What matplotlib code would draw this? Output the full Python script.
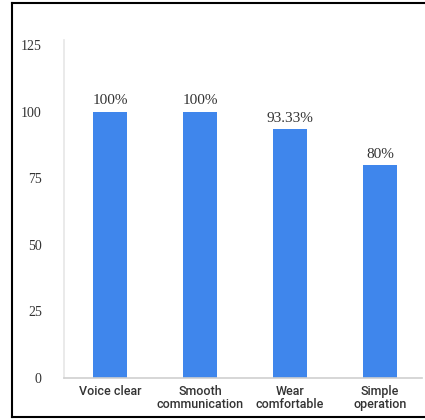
import matplotlib
matplotlib.use("Agg")
import matplotlib.pyplot as plt
from matplotlib.lines import Line2D

# survey results per item
categories = ["Voice clear", "Smooth\ncommunication", "Wear\ncomfortable", "Simple\noperation"]
values = [100, 100, 93.33, 80]
value_labels = ["100%", "100%", "93.33%", "80%"]
y_ticks = [0, 25, 50, 75, 100, 125]

fig = plt.figure(figsize=(4.25, 4.2), dpi=100)
ax = fig.add_axes([64 / 425, 42 / 420, 358 / 425, 338 / 420])

x = list(range(len(categories)))
bars = ax.bar(x, values, width=0.378, color="#3f86ec", zorder=2)

for xi, v, lab in zip(x, values, value_labels):
    ax.annotate(lab, (xi, v), xytext=(0, 3), textcoords="offset points",
                ha="center", va="bottom", fontsize=11,
                family="Liberation Serif", color="#333333")

ax.set_xlim(-0.511, 3.467)
ax.set_ylim(0, 126.9)
ax.set_yticks(y_ticks)
ax.set_yticklabels([str(t) for t in y_ticks], family="Liberation Serif",
                   fontsize=10, color="#333333")
ax.set_xticks(x)
ax.set_xticklabels(categories, family="Roboto", fontsize=9,
                   fontweight="medium", color="#333333", linespacing=1.0)
ax.tick_params(axis="y", length=0, pad=16)
ax.tick_params(axis="x", length=0, pad=5)

for side in ["top", "right"]:
    ax.spines[side].set_visible(False)
ax.spines["left"].set_color("#e6e6e6")
ax.spines["bottom"].set_color("#cfcfcf")
ax.spines["left"].set_linewidth(1.2)
ax.spines["bottom"].set_linewidth(1.2)

# black frame on the left, top and bottom
W, H = 425, 420
frame = [((12, 12), (3, 417)), ((12, 425), (3, 3)), ((12, 425), (417, 417))]
for xs, ys in frame:
    fig.add_artist(Line2D([xx / W for xx in xs], [1 - yy / H for yy in ys],
                          color="black", lw=1.5, transform=fig.transFigure))

fig.savefig("out.png", dpi=100)
